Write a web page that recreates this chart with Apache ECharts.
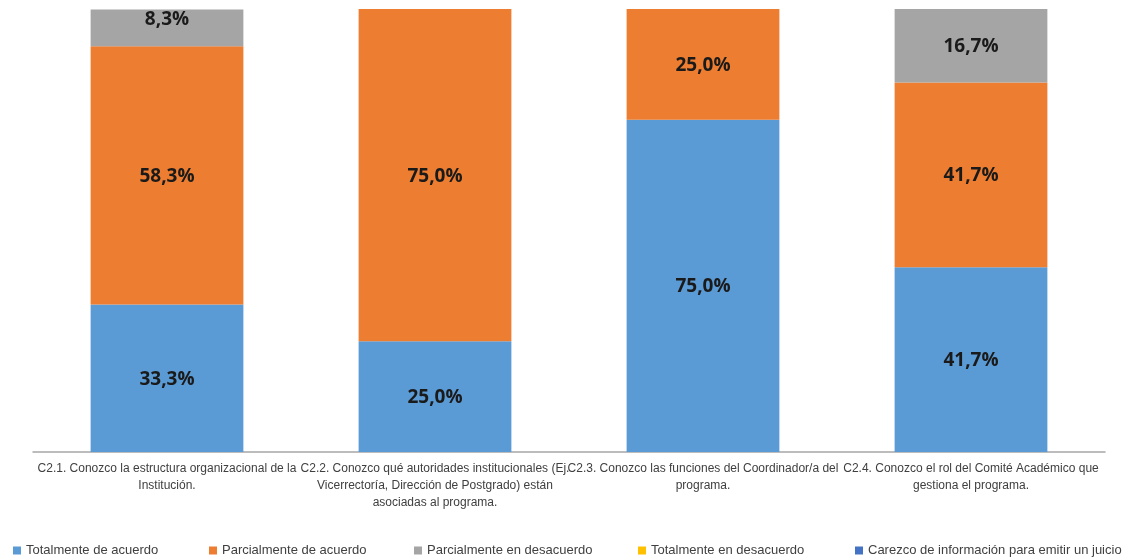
<!DOCTYPE html>
<html><head><meta charset="utf-8">
<script src="https://cdn.jsdelivr.net/npm/echarts@6/dist/echarts.min.js"></script>
<style>html,body{margin:0;padding:0;background:#fff}#c{width:1132px;height:557px}</style>
</head><body><div id="c"></div>
<script>
const categories = [
  "C2.1. Conozco la estructura organizacional de la\nInstitución.",
  "C2.2. Conozco qué autoridades institucionales (Ej.\nVicerrectoría, Dirección de Postgrado) están\nasociadas al programa.",
  "C2.3. Conozco las funciones del Coordinador/a del\nprograma.",
  "C2.4. Conozco el rol del Comité Académico que\ngestiona el programa."
];
const seriesNames = ["Totalmente de acuerdo","Parcialmente de acuerdo","Parcialmente en desacuerdo","Totalmente en desacuerdo","Carezco de información para emitir un juicio"];
const totalAcuerdo = [33.3, 25.0, 75.0, 41.7];
const parcialAcuerdo = [58.3, 75.0, 25.0, 41.7];
const parcialDesacuerdo = [8.3, 0, 0, 16.7];
const totalDesacuerdo = [0, 0, 0, 0];
const carezco = [0, 0, 0, 0];
const colors = ["#5B9BD5","#ED7D31","#A5A5A5","#FFC000","#4472C4"];
const values = [totalAcuerdo, parcialAcuerdo, parcialDesacuerdo, totalDesacuerdo, carezco];
const legendLeft = [8, 204, 409, 633, 850];

const fmt = v => v.toFixed(1).replace('.', ',') + '%';
const chart = echarts.init(document.getElementById('c'));
chart.setOption({
  animation: false,
  grid: {left: 33, right: 27, top: 9, bottom: 105},
  xAxis: {
    type: 'category', data: categories,
    axisLine: {lineStyle: {color: '#a6a6a6', width: 1.5}},
    axisTick: {show: false},
    axisLabel: {interval: 0, color: '#404040', fontFamily: 'Liberation Sans', fontSize: 12, lineHeight: 17, margin: 8}
  },
  yAxis: {type: 'value', min: 0, max: 100, show: false, splitLine: {show: false}},
  legend: seriesNames.map((n, i) => ({
    data: [n], left: legendLeft[i], top: 539, itemWidth: 8, itemHeight: 8, itemGap: 4,
    icon: 'rect', textStyle: {color: '#404040', fontFamily: 'Liberation Sans', fontSize: 13}
  })),
  series: seriesNames.map((n, i) => ({
    name: n, type: 'bar', stack: 'total', barWidth: '57%',
    itemStyle: {color: colors[i]},
    data: values[i].map((v, j) => ({
      value: v,
      label: (i === 2 && v < 10) ? {position: 'insideTop', distance: 1, offset: [0, 0]} : undefined
    })),
    label: {
      show: true, position: 'inside', offset: [0, 1],
      color: '#1a1a1a', fontWeight: 'bold', fontSize: 19, fontFamily: 'Open Sans',
      formatter: p => p.value > 0 ? fmt(p.value) : ''
    }
  }))
});
</script></body></html>
